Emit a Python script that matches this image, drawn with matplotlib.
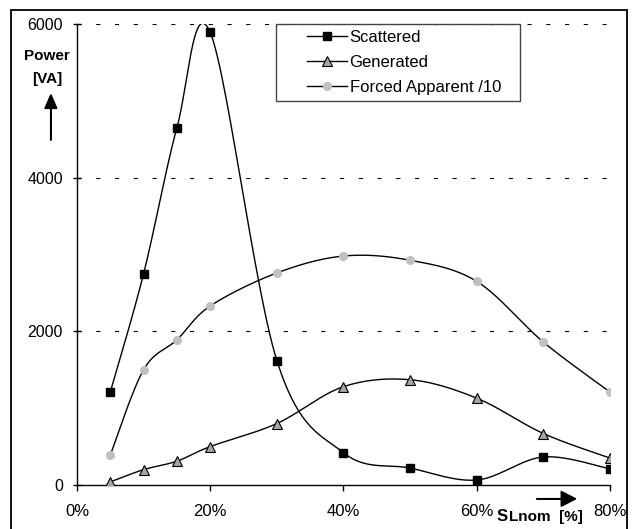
import numpy as np
import matplotlib
matplotlib.use('Agg')
from matplotlib import pyplot as plt
from matplotlib.patches import Rectangle, FancyArrow

plt.rcParams['font.family'] = ['Liberation Sans', 'DejaVu Sans']
plt.rcParams['lines.scale_dashes'] = False

# slip in % of nominal
slip = [5, 10, 15, 20, 30, 40, 50, 60, 70, 80]
# power in VA
scattered = [1210, 2750, 4650, 5890, 1620, 420, 220, 65, 365, 210]
generated = [40, 200, 310, 500, 800, 1280, 1370, 1130, 670, 350]
forced_apparent = [390, 1500, 1890, 2330, 2760, 2980, 2925, 2650, 1860, 1210]  # divided by 10

y_ticks = [0, 2000, 4000, 6000]
x_ticks = [0, 20, 40, 60, 80]
x_ticklabels = ['0%', '20%', '40%', '60%', '80%']


def smooth(x, y, n=30):
    # bezier smoothing, control points at 1/6 of neighbour differences
    p = np.column_stack([x, y]).astype(float)
    p_ext = np.vstack([p[0], p, p[-1]])
    t = np.linspace(0, 1, n)[:, None]
    out = []
    for i in range(len(p) - 1):
        p0 = p_ext[i + 1]
        p3 = p_ext[i + 2]
        c1 = p0 + (p_ext[i + 2] - p_ext[i]) / 6
        c2 = p3 - (p_ext[i + 3] - p_ext[i + 1]) / 6
        seg = (1 - t) ** 3 * p0 + 3 * (1 - t) ** 2 * t * c1 + 3 * (1 - t) * t ** 2 * c2 + t ** 3 * p3
        out.append(seg if i == 0 else seg[1:])
    out = np.vstack(out)
    return out[:, 0], out[:, 1]


fig = plt.figure(figsize=(6.32, 5.29), dpi=100)
ax = fig.add_axes([0.1218, 0.0832, 0.8434, 0.8714])

for yv in y_ticks[1:]:
    ax.axhline(yv, color='black', lw=0.8, ls=(0, (3, 10.5)), zorder=1)

series = [
    (scattered, 'Scattered', dict(marker='s', ms=5.5, mfc='black', mec='black')),
    (generated, 'Generated', dict(marker='^', ms=6.5, mfc='#a6a6a6', mec='black', mew=0.8)),
    (forced_apparent, 'Forced Apparent /10', dict(marker='o', ms=5.5, mfc='#c0c0c0', mec='#c0c0c0')),
]
handles = []
for vals, label, style in series:
    sx, sy = smooth(slip, vals)
    ax.plot(sx, sy, color='black', lw=1.0, zorder=2)
    ax.plot(slip, vals, ls='none', zorder=3, **style)
    h, = ax.plot([], [], color='black', lw=1.0, label=label, **style)
    handles.append(h)

ax.set_xlim(0, 80)
ax.set_ylim(0, 6000)
ax.set_xticks(x_ticks)
ax.set_xticklabels(x_ticklabels)
ax.set_yticks(y_ticks)
ax.spines['top'].set_visible(False)
ax.spines['right'].set_visible(False)
for s in ['left', 'bottom']:
    ax.spines[s].set_linewidth(1.0)
ax.tick_params(axis='y', direction='inout', length=6, width=1.0, labelsize=11.5, pad=7)
ax.tick_params(axis='x', direction='out', length=4.5, width=1.0, labelsize=12, pad=9)

# legend entries without frame, box drawn separately
leg = fig.legend(handles=handles, loc='upper left', bbox_to_anchor=(0.4858, 0.943),
                 fontsize=12, frameon=False, handlelength=2.4, labelspacing=0.6,
                 borderpad=0, handletextpad=0.15, borderaxespad=0)
fig.add_artist(Rectangle((276 / 632, 1 - 101 / 529), 244 / 632, 77 / 529,
                         transform=fig.transFigure, fill=False,
                         edgecolor='#444444', lw=1.0))

# axis captions with arrows
fig.text(0.0745, 0.894, 'Power', fontsize=11, fontweight='bold', ha='center', va='center')
fig.text(0.0745, 0.851, '[VA]', fontsize=11, fontweight='bold', ha='center', va='center')
fig.add_artist(FancyArrow(0.0805, 0.735, 0, 0.086, width=0.0008, head_width=0.019,
                          head_length=0.026, length_includes_head=True,
                          color='black', transform=fig.transFigure))
fig.text(0.786, 0.016, 'S', fontsize=12, fontweight='bold', ha='left', va='baseline')
fig.text(0.805, 0.016, 'Lnom  [%]', fontsize=11, fontweight='bold', ha='left', va='baseline')
fig.add_artist(FancyArrow(0.849, 0.057, 0.062, 0, width=0.0008, head_width=0.028,
                          head_length=0.023, length_includes_head=True,
                          color='black', transform=fig.transFigure))

# outer frame
fig.add_artist(Rectangle((0.0174, -0.05), 0.9747, 1.031, transform=fig.transFigure,
                         fill=False, edgecolor='black', lw=1.3))

fig.savefig('out.png', dpi=100)
